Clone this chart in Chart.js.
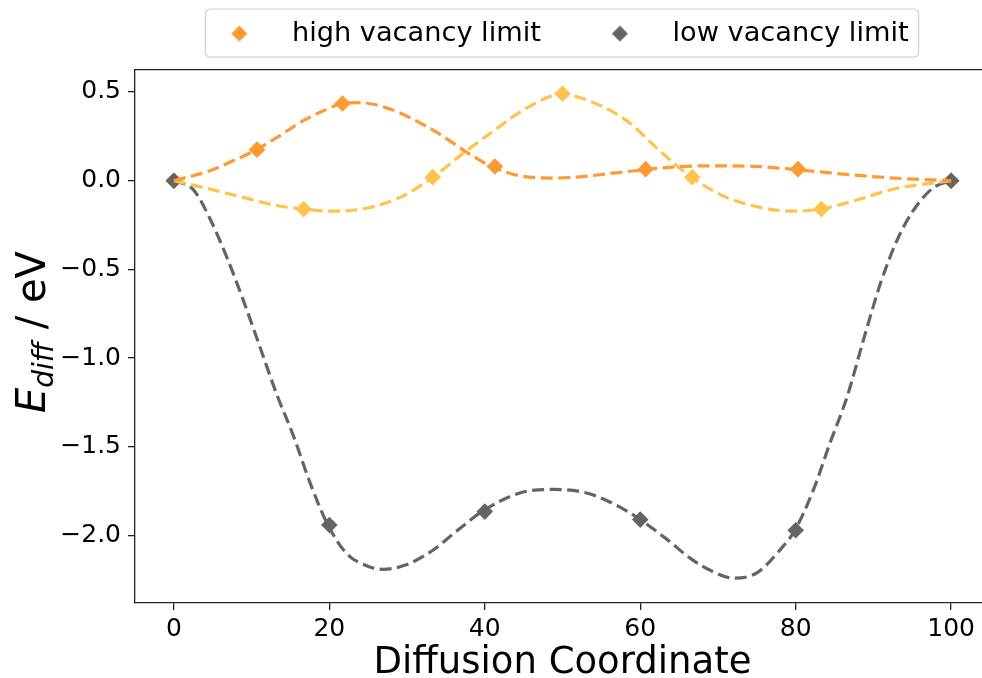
<!DOCTYPE html>
<html>
<head>
<meta charset="utf-8">
<script src="https://cdn.jsdelivr.net/npm/chart.js@4.4.1/dist/chart.umd.min.js"></script>
<style>
html, body { margin: 0; padding: 0; background: #fff; overflow: hidden; }
#wrap { position: relative; width: 1000px; height: 678px; }
</style>
</head>
<body>
<div id="wrap"><canvas id="c"></canvas></div>
<script>
// markers
var highX = [0, 10.7, 21.7, 41.3, 60.7, 80.3, 100];
var highY = [0, 0.175, 0.435, 0.08, 0.065, 0.065, 0];
var midX = [0, 16.7, 33.3, 50, 66.7, 83.3, 100];
var midY = [0, -0.16, 0.02, 0.49, 0.02, -0.16, 0];
var lowX = [0, 20, 40, 60, 80, 100];
var lowY = [0, -1.94, -1.865, -1.91, -1.97, 0];

// dashed fit curves
var highFitX = [0, 4.6, 7.6, 10.6, 13.6, 16.6, 19.7, 21.6, 23.9, 27.4, 30.8, 34.2, 37.7, 41.1, 44.5, 48.8, 52.3, 56, 60.6, 64.7, 69.8, 75.4, 80.3, 86.1, 92.6, 100];
var highFitY = [0, 0.056, 0.112, 0.174, 0.253, 0.337, 0.403, 0.434, 0.44, 0.41, 0.346, 0.262, 0.16, 0.075, 0.028, 0.015, 0.022, 0.04, 0.062, 0.079, 0.084, 0.079, 0.062, 0.037, 0.015, 0];
var midFitX = [0, 4.6, 8.9, 13.2, 16.6, 20.5, 24.8, 29.1, 33.2, 36.8, 41.1, 45.4, 49.9, 54, 58.3, 62.5, 66.6, 71.1, 75.4, 79.7, 83.4, 88.3, 92.6, 100];
var midFitY = [0, -0.047, -0.094, -0.14, -0.159, -0.172, -0.155, -0.094, 0.015, 0.14, 0.28, 0.41, 0.487, 0.44, 0.337, 0.169, 0.019, -0.094, -0.15, -0.172, -0.159, -0.103, -0.047, 0];
var lowFitX = [0, 2.5, 4.6, 6.8, 8.9, 11.1, 13.2, 15.4, 17.5, 19.7, 22.2, 24.8, 26.9, 29.9, 33.4, 36.5, 39.8, 44.5, 48.8, 53.1, 57.4, 60, 63.4, 66.5, 69.2, 72, 75, 78, 79.9, 82.3, 84.4, 86.6, 88.7, 90.9, 93, 95.1, 97.7, 100];
var lowFitY = [0, -0.05, -0.21, -0.43, -0.67, -0.94, -1.2, -1.44, -1.7, -1.93, -2.1, -2.17, -2.19, -2.165, -2.08, -1.97, -1.86, -1.76, -1.74, -1.76, -1.84, -1.91, -2.02, -2.13, -2.2, -2.24, -2.21, -2.08, -1.97, -1.74, -1.48, -1.22, -0.9, -0.58, -0.34, -0.17, -0.04, 0];

var xTicks = [0, 20, 40, 60, 80, 100];
var yTicks = [-2.0, -1.5, -1.0, -0.5, 0.0, 0.5];

var ORANGE = '#ff9933', YELLOW = '#ffc34d', GREY = '#646464';
var FONT = 'DejaVu Sans';

function pts(xs, ys) {
	return xs.map(function(x, i) { return {x: x, y: ys[i]}; });
}

function markerSet(label, xs, ys, color, order) {
	return {
		label: label, data: pts(xs, ys), showLine: false,
		pointStyle: 'rectRot', pointRadius: 8.3, pointHoverRadius: 8.3,
		backgroundColor: color, borderColor: color, borderWidth: 0, order: order
	};
}

function fitSet(xs, ys, color, order) {
	return {
		label: '', data: pts(xs, ys), showLine: true, pointRadius: 0,
		borderColor: color, backgroundColor: color, borderWidth: 3.2,
		borderDash: [12, 5.5], cubicInterpolationMode: 'monotone', order: order
	};
}

function diamond(color) {
	var cv = document.createElement('canvas');
	cv.width = 17; cv.height = 17;
	var g = cv.getContext('2d');
	g.fillStyle = color;
	g.beginPath();
	g.moveTo(8.5, 0.5); g.lineTo(16.5, 8.5); g.lineTo(8.5, 16.5); g.lineTo(0.5, 8.5);
	g.closePath(); g.fill();
	return cv;
}

// matplotlib centres the legend a little left of the plot centre
var legendShift = {
	id: 'legendShift',
	afterLayout: function(chart) {
		chart.legend.left -= 8;
		chart.legend.right -= 8;
	}
};

var legendFrame = {
	id: 'legendFrame',
	afterDraw: function(chart) {
		var hb = chart.legend.legendHitBoxes;
		if (!hb || !hb.length) return;
		var last = hb[hb.length - 1];
		var l = hb[0].left + 5, r = last.left + last.width + 10;
		var t = hb[0].top - 11, b = hb[0].top + hb[0].height + 10;
		var ctx = chart.ctx;
		ctx.save();
		ctx.strokeStyle = '#d0d0d0';
		ctx.lineWidth = 1.2;
		ctx.beginPath();
		ctx.roundRect(l, t, r - l, b - t, 5);
		ctx.stroke();
		ctx.restore();
	}
};

var yTitle = {
	id: 'yTitle',
	afterDraw: function(chart) {
		var ctx = chart.ctx;
		ctx.save();
		ctx.fillStyle = '#000';
		ctx.textBaseline = 'alphabetic';
		ctx.translate(45, 332);
		ctx.rotate(-Math.PI / 2);
		ctx.font = 'italic 40px "' + FONT + '"';
		var wE = ctx.measureText('E').width;
		ctx.font = 'italic 28px "' + FONT + '"';
		var wD = ctx.measureText('diff').width;
		ctx.font = '40px "' + FONT + '"';
		var wR = ctx.measureText(' / eV').width;
		var x = -(wE + wD + wR) / 2;
		ctx.font = 'italic 40px "' + FONT + '"';
		ctx.fillText('E', x, 0);
		ctx.font = 'italic 28px "' + FONT + '"';
		ctx.fillText('diff', x + wE, 8);
		ctx.font = '40px "' + FONT + '"';
		ctx.fillText(' / eV', x + wE + wD, 0);
		ctx.restore();
	}
};

var axisLine = {display: true, color: '#222', width: 1.3};
var tickGrid = {display: true, drawOnChartArea: false, drawTicks: true, tickLength: 7, color: '#222', lineWidth: 1.3};

new Chart(document.getElementById('c'), {
	type: 'scatter',
	data: {
		datasets: [
			markerSet('high vacancy limit', highX, highY, ORANGE, 5),
			markerSet('low vacancy limit', lowX, lowY, GREY, 4),
			markerSet('', midX, midY, YELLOW, 6),
			fitSet(highFitX, highFitY, ORANGE, 1),
			fitSet(midFitX, midFitY, YELLOW, 2),
			fitSet(lowFitX, lowFitY, GREY, 3)
		]
	},
	options: {
		animation: false,
		responsive: true,
		maintainAspectRatio: false,
		layout: {padding: {top: -20, right: 10, left: 0, bottom: 0}},
		plugins: {
			tooltip: {enabled: false},
			legend: {
				position: 'top',
				fullSize: false,
				labels: {
					usePointStyle: true,
					pointStyleWidth: 78,
					padding: 40,
					color: '#000',
					font: {family: FONT, size: 27.2},
					sort: function(a, b) { return a.datasetIndex - b.datasetIndex; },
					generateLabels: function(chart) {
						return Chart.defaults.plugins.legend.labels.generateLabels(chart)
							.filter(function(it) { return it.text; })
							.map(function(it) { it.pointStyle = diamond(it.fillStyle); return it; });
					}
				}
			}
		},
		scales: {
			x: {
				type: 'linear', position: 'bottom', min: -5, max: 105,
				afterFit: function(s) { s.height = 75; },
				afterBuildTicks: function(s) { s.ticks = xTicks.map(function(v) { return {value: v}; }); },
				grid: tickGrid, border: axisLine,
				ticks: {color: '#000', font: {family: FONT, size: 25}, padding: 4, autoSkip: false, maxRotation: 0},
				title: {display: true, text: 'Diffusion Coordinate', color: '#000', font: {family: FONT, size: 37, lineHeight: 0.78}, padding: 0}
			},
			x2: {
				type: 'linear', position: 'top', min: -5, max: 105, display: true,
				afterFit: function(s) { s.height = 12.6; },
				grid: {display: false, drawTicks: false}, border: axisLine,
				ticks: {display: false}
			},
			y: {
				type: 'linear', position: 'left', min: -2.38, max: 0.625,
				afterFit: function(s) { s.width = 135; },
				afterBuildTicks: function(s) { s.ticks = yTicks.map(function(v) { return {value: v}; }); },
				grid: tickGrid, border: axisLine,
				ticks: {
					color: '#000', font: {family: FONT, size: 25}, padding: 7, autoSkip: false,
					callback: function(v) { return (v < 0 ? '\u2212' : '') + Math.abs(v).toFixed(1); }
				}
			}
		}
	},
	plugins: [legendShift, legendFrame, yTitle]
});
</script>
</body>
</html>
